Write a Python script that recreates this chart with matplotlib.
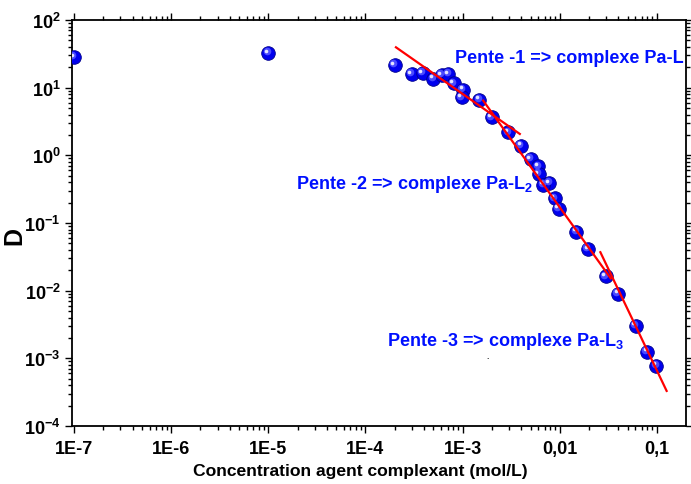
import numpy as np
import matplotlib
matplotlib.use('Agg')
import matplotlib.pyplot as plt
from matplotlib.ticker import FixedLocator, FixedFormatter, LogLocator, NullFormatter
from matplotlib.transforms import offset_copy

plt.rcParams['font.family'] = ['Liberation Sans', 'DejaVu Sans']
plt.rcParams['font.weight'] = 'bold'
plt.rcParams['mathtext.fontset'] = 'custom'
plt.rcParams['mathtext.rm'] = 'Liberation Sans:bold'
plt.rcParams['mathtext.it'] = 'Liberation Sans:bold'
plt.rcParams['mathtext.bf'] = 'Liberation Sans:bold'

# Distribution coefficient D vs complexing agent concentration (mol/L)
conc = [1.0e-7, 1.0e-5, 2.0e-4, 3.0e-4, 3.9e-4, 5.0e-4, 6.1e-4, 7.1e-4, 8.1e-4,
        1.01e-3, 9.75e-4, 1.48e-3, 2.0e-3, 2.94e-3, 4.0e-3, 5.0e-3, 6.0e-3,
        6.1e-3, 7.8e-3, 6.8e-3, 8.9e-3, 9.8e-3, 0.0148, 0.0195, 0.0297,
        0.0398, 0.0605, 0.0793, 0.0988]
D = [28.4, 32.6, 21.6, 15.9, 16.5, 13.5, 15.4, 15.9, 11.6,
     9.3, 7.2, 6.65, 3.66, 2.19, 1.39, 0.885, 0.69,
     0.53, 0.39, 0.366, 0.232, 0.162, 0.0747, 0.0414, 0.0164,
     0.00897, 0.00305, 0.00126, 0.00078]

# slope lines (end points)
fit1_x = [2.06e-4, 3.88e-3]
fit1_y = [39.5, 2.07]
fit2_x = [1.63e-3, 0.0335]
fit2_y = [6.43, 0.0152]
fit3_x = [0.0262, 0.126]
fit3_y = [0.037, 3.3e-4]

xticks = [1e-7, 1e-6, 1e-5, 1e-4, 1e-3, 1e-2, 1e-1]
xticklabels = ['1E-7', '1E-6', '1E-5', '1E-4', '1E-3', '0,01', '0,1']

fig = plt.figure(figsize=(6.91, 4.85), dpi=100)
ax = fig.add_axes([0.1038, 0.1196, 0.8890, 0.8371])
ax.set_xscale('log')
ax.set_yscale('log')
ax.set_xlim(10**-7.024, 10**-0.70)
ax.set_ylim(1e-4, 1e2)

# spheres: dark base + two offset highlights
ax.plot(conc, D, 'o', ms=9.8, mfc='#0000ee', mec='#00008c', mew=0.6, ls='none', zorder=3)
hl1 = offset_copy(ax.transData, fig=fig, x=-1.6, y=1.6, units='dots')
ax.plot(conc, D, 'o', ms=5.5, mfc='#4a4aff', mec='none', ls='none', transform=hl1, zorder=4)
hl2 = offset_copy(ax.transData, fig=fig, x=-2.4, y=2.4, units='dots')
ax.plot(conc, D, 'o', ms=2.6, mfc='#e4e4ff', mec='none', ls='none', transform=hl2, zorder=5)

for fx, fy in [(fit1_x, fit1_y), (fit2_x, fit2_y), (fit3_x, fit3_y)]:
    ax.plot(fx, fy, color='#ff0000', lw=1.6, zorder=6)

lab = dict(color='#0010ff', fontsize=13, fontweight='bold', clip_on=True)
ax.text(8.3e-4, 23.7, 'Pente -1 => complexe Pa-L', va='baseline', **lab)
ax.text(1.92e-5, 0.33, r'Pente -2 => complexe Pa-L$_{2}$', va='baseline', **lab)
ax.text(1.66e-4, 1.58e-3, r'Pente -3 => complexe Pa-L$_{3}$', va='baseline', **lab)
ax.text(1.8e-3, 1.0e-3, '.', fontsize=6, color='black', ha='center')

ax.xaxis.set_major_locator(FixedLocator(xticks))
ax.xaxis.set_major_formatter(FixedFormatter(xticklabels))
ax.xaxis.set_minor_locator(LogLocator(base=10, subs=np.arange(2, 10), numticks=20))
ax.xaxis.set_minor_formatter(NullFormatter())
ax.yaxis.set_major_locator(LogLocator(base=10, numticks=10))
ax.yaxis.set_minor_locator(LogLocator(base=10, subs=np.arange(2, 10), numticks=20))
ax.yaxis.set_minor_formatter(NullFormatter())

ax.tick_params(which='both', direction='out', top=True, right=True, width=1.0)
ax.tick_params(which='major', length=5, labelsize=13)
ax.tick_params(axis='x', which='major', pad=5)
ax.tick_params(axis='y', which='major', pad=3)
ax.tick_params(which='minor', length=3)
for s in ax.spines.values():
    s.set_linewidth(1.3)

ax.set_xlabel('Concentration agent complexant (mol/L)', fontsize=12.6, fontweight='bold')
ax.xaxis.set_label_coords(0.469, -0.091)
ax.set_ylabel('D', fontsize=18, fontweight='bold')
ax.yaxis.set_label_coords(-0.074, 0.47)

fig.savefig('out.png', dpi=100)
